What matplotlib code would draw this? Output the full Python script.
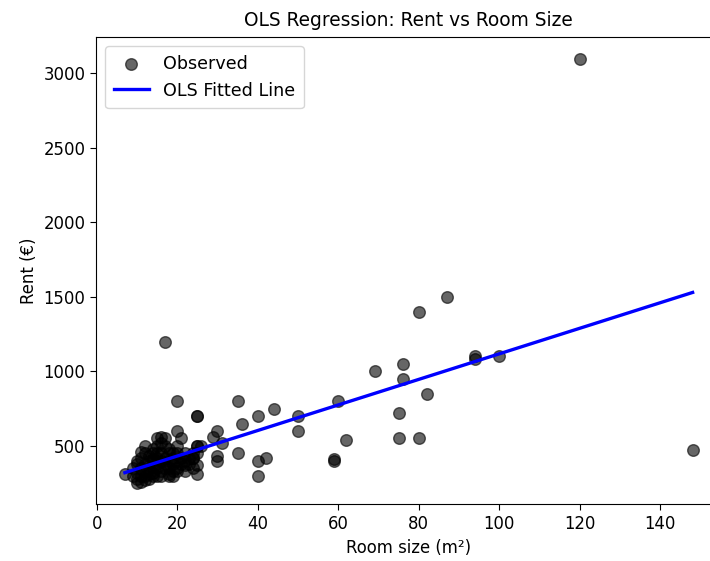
import matplotlib
matplotlib.use("Agg")
import matplotlib.pyplot as plt
import numpy as np

# outlying / spread-out observations
room_size_outer = [120, 87, 80, 17, 94, 94, 100, 69, 76, 76, 82, 75, 75, 80, 62, 60,
                   59, 59, 50, 50, 44, 40, 40, 40, 42, 36, 35, 35, 30, 30, 30, 29,
                   31, 25, 25, 25, 25, 25, 24, 21, 20, 20, 148, 7]
rent_outer = [3100, 1500, 1400, 1200, 1100, 1080, 1100, 1000, 1050, 950, 850, 720, 550, 550, 540, 800,
              400, 410, 700, 600, 750, 700, 400, 300, 420, 650, 800, 450, 600, 400, 430, 560,
              520, 700, 700, 500, 370, 310, 420, 550, 600, 800, 470, 310]

# dense cluster of small rooms
room_size_cluster = [9, 9, 10, 10, 10, 10, 10, 11, 11, 11, 11, 12, 12, 12, 12, 12,
                     13, 13, 13, 13, 14, 14, 14, 14, 14, 14, 15, 15, 15, 15, 15, 15,
                     15, 16, 16, 16, 16, 16, 17, 17, 17, 17, 17, 18, 18, 18, 18, 18,
                     19, 19, 19, 19, 20, 20, 20, 20, 21, 21, 22, 22, 22, 23, 23, 24,
                     24, 24, 25, 25, 26, 16, 13, 12, 18, 20, 22, 14, 19, 11]
rent_cluster = [300, 350, 250, 280, 320, 380, 400, 260, 300, 350, 420, 300, 330, 380, 450, 500,
                280, 350, 400, 430, 300, 320, 360, 400, 450, 480, 300, 350, 380, 420, 450, 500,
                550, 300, 330, 400, 450, 560, 350, 380, 420, 500, 550, 300, 350, 400, 450, 480,
                330, 380, 420, 450, 350, 400, 450, 500, 380, 420, 330, 400, 450, 380, 420, 350,
                420, 450, 450, 500, 500, 520, 310, 270, 310, 330, 370, 410, 300, 460]

room_size = np.array(room_size_outer + room_size_cluster)
rent = np.array(rent_outer + rent_cluster)

# fitted OLS coefficients
ols_intercept = 260
ols_slope = 8.58

plt.rcParams['font.family'] = ['DejaVu Sans']

fig = plt.figure(figsize=(7.1, 5.61), dpi=100)
ax = fig.add_axes([0.1359, 0.101, 0.8796, 0.8325])

ax.scatter(room_size, rent, color='black', alpha=0.6, s=70, label='Observed')
x_line = np.array([room_size.min(), room_size.max()])
ax.plot(x_line, ols_intercept + ols_slope * x_line, color='blue', linewidth=2.4,
        label='OLS Fitted Line')

ax.set_title('OLS Regression: Rent vs Room Size', fontsize=13.4, pad=8)
ax.set_xlabel('Room size (m²)', fontsize=11.9)
ax.set_ylabel('Rent (€)', fontsize=11.9)
ax.tick_params(labelsize=11.9, length=4.5)
ax.legend(loc='upper left', fontsize=12.6, borderpad=0.5)

fig.savefig('out.png', dpi=100)
